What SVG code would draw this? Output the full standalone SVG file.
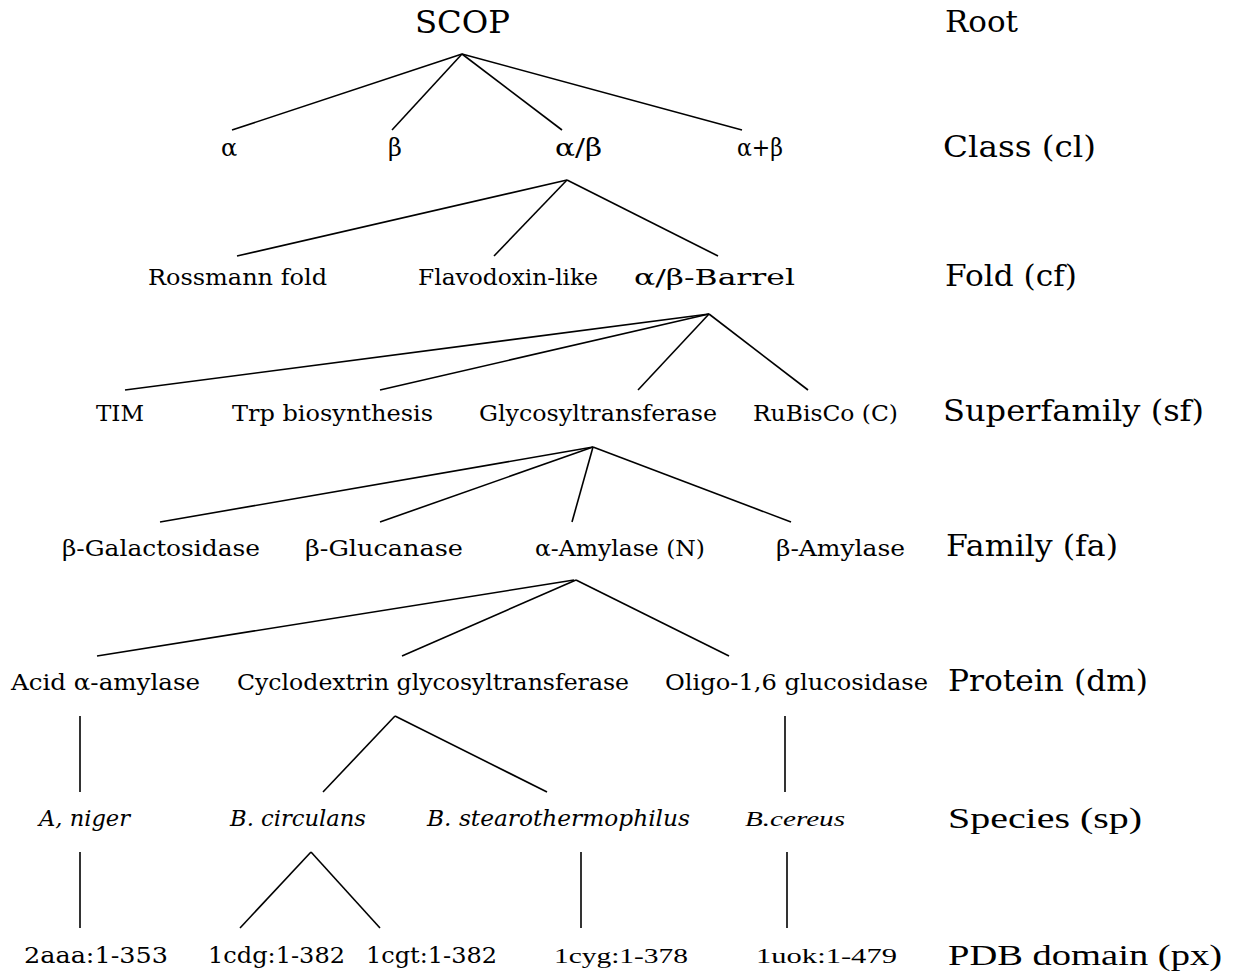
<svg xmlns="http://www.w3.org/2000/svg" width="1236" height="974" viewBox="0 0 1236 974">
<style>
text{font-family:"DejaVu Serif","Liberation Serif",serif;fill:#000}
.lvl{font-size:30px}
.root{font-size:32px}
.cls{font-size:24px}
.n{font-size:22px}
.sp{font-size:22px;font-style:italic}
.tm{font-family:"Liberation Serif",serif}
.conn line{stroke:#000;stroke-width:1.6;fill:none}
</style>
<rect width="1236" height="974" fill="#fff"/>
<g class="conn" id="connectors">
<line x1="462" y1="54" x2="232" y2="130"/>
<line x1="462" y1="54" x2="392" y2="130"/>
<line x1="462" y1="54" x2="562" y2="130"/>
<line x1="462" y1="54" x2="742" y2="130"/>
<line x1="567" y1="180" x2="237" y2="256"/>
<line x1="567" y1="180" x2="494" y2="256"/>
<line x1="567" y1="180" x2="718" y2="256"/>
<line x1="709" y1="314" x2="125" y2="390"/>
<line x1="709" y1="314" x2="380" y2="390"/>
<line x1="709" y1="314" x2="638" y2="390"/>
<line x1="709" y1="314" x2="808" y2="390"/>
<line x1="593" y1="447" x2="160" y2="522"/>
<line x1="593" y1="447" x2="380" y2="522"/>
<line x1="593" y1="447" x2="572" y2="522"/>
<line x1="593" y1="447" x2="791" y2="522"/>
<line x1="574" y1="580" x2="97" y2="656"/>
<line x1="576" y1="580" x2="402" y2="656"/>
<line x1="576" y1="580" x2="729" y2="656"/>
<line x1="80" y1="716" x2="80" y2="792"/>
<line x1="395" y1="716" x2="323" y2="792"/>
<line x1="395" y1="716" x2="547" y2="792"/>
<line x1="785" y1="716" x2="785" y2="792"/>
<line x1="80" y1="852" x2="80" y2="928"/>
<line x1="311" y1="852" x2="240" y2="928"/>
<line x1="311" y1="852" x2="380" y2="928"/>
<line x1="581" y1="852" x2="581" y2="928"/>
<line x1="787" y1="852" x2="787" y2="928"/>
</g>
<g id="levels">
<text class="lvl" x="945" y="32" textLength="73" lengthAdjust="spacingAndGlyphs">Root</text>
<text class="lvl" x="943" y="157" textLength="153" lengthAdjust="spacingAndGlyphs">Class (cl)</text>
<text class="lvl" x="945" y="286" textLength="132" lengthAdjust="spacingAndGlyphs">Fold (cf)</text>
<text class="lvl" x="943" y="421" textLength="261" lengthAdjust="spacingAndGlyphs">Superfamily (sf)</text>
<text class="lvl" x="946" y="556" textLength="172" lengthAdjust="spacingAndGlyphs">Family (fa)</text>
<text class="lvl" x="948" y="691" textLength="200" lengthAdjust="spacingAndGlyphs">Protein (dm)</text>
<text class="lvl tm" x="948" y="828" font-size="33" textLength="194" lengthAdjust="spacingAndGlyphs">Species (sp)</text>
<text class="lvl tm" x="948" y="965" font-size="33" textLength="274" lengthAdjust="spacingAndGlyphs">PDB domain (px)</text>
</g>
<g id="n-scop"><text class="root" x="415" y="33" textLength="95" lengthAdjust="spacingAndGlyphs">SCOP</text></g>
<g id="n-alpha"><text class="cls" x="221" y="156">α</text></g>
<g id="n-beta"><text class="cls" x="388" y="156">β</text></g>
<g id="n-ab"><text class="cls" x="555" y="156" textLength="47" lengthAdjust="spacingAndGlyphs">α/β</text></g>
<g id="n-apb"><text class="cls" x="737" y="156" textLength="46" lengthAdjust="spacingAndGlyphs">α+β</text></g>
<g id="n-rossmann"><text class="n" x="148" y="285" textLength="179" lengthAdjust="spacingAndGlyphs">Rossmann fold</text></g>
<g id="n-flavodoxin"><text class="n" x="418" y="285" textLength="180" lengthAdjust="spacingAndGlyphs">Flavodoxin-like</text></g>
<g id="n-barrel"><text class="n" x="634" y="285" font-size="21" textLength="161" lengthAdjust="spacingAndGlyphs">α/β-Barrel</text></g>
<g id="n-tim"><text class="n" x="96" y="421" textLength="48" lengthAdjust="spacingAndGlyphs">TIM</text></g>
<g id="n-trp"><text class="n" x="232" y="421" textLength="201" lengthAdjust="spacingAndGlyphs">Trp biosynthesis</text></g>
<g id="n-glyco"><text class="n" x="479" y="421" textLength="238" lengthAdjust="spacingAndGlyphs">Glycosyltransferase</text></g>
<g id="n-rubisco"><text class="n" x="753" y="421" textLength="145" lengthAdjust="spacingAndGlyphs">RuBisCo (C)</text></g>
<g id="n-bgal"><text class="n" x="62" y="556" textLength="198" lengthAdjust="spacingAndGlyphs">β-Galactosidase</text></g>
<g id="n-bglu"><text class="n" x="305" y="556" textLength="158" lengthAdjust="spacingAndGlyphs">β-Glucanase</text></g>
<g id="n-aamy"><text class="n" x="535" y="556" textLength="170" lengthAdjust="spacingAndGlyphs">α-Amylase (N)</text></g>
<g id="n-bamy"><text class="n" x="776" y="556" textLength="129" lengthAdjust="spacingAndGlyphs">β-Amylase</text></g>
<g id="n-acid"><text class="n" x="11" y="690" textLength="189" lengthAdjust="spacingAndGlyphs">Acid α-amylase</text></g>
<g id="n-cyclo"><text class="n" x="237" y="690" textLength="392" lengthAdjust="spacingAndGlyphs">Cyclodextrin glycosyltransferase</text></g>
<g id="n-oligo"><text class="n" x="665" y="690" textLength="263" lengthAdjust="spacingAndGlyphs">Oligo-1,6 glucosidase</text></g>
<g id="n-aniger"><text class="sp" x="39" y="826" textLength="91" lengthAdjust="spacingAndGlyphs">A, niger</text></g>
<g id="n-bcirc"><text class="sp" x="230" y="826" textLength="136" lengthAdjust="spacingAndGlyphs">B. circulans</text></g>
<g id="n-bstear"><text class="sp" x="427" y="826" textLength="263" lengthAdjust="spacingAndGlyphs">B. stearothermophilus</text></g>
<g id="n-bcereus"><text class="sp tm" x="745" y="826" font-size="24" textLength="100" lengthAdjust="spacingAndGlyphs">B.cereus</text></g>
<g id="n-2aaa"><text class="n" x="24" y="963" textLength="144" lengthAdjust="spacingAndGlyphs">2aaa:1-353</text></g>
<g id="n-1cdg"><text class="n" x="208" y="963" textLength="137" lengthAdjust="spacingAndGlyphs">1cdg:1-382</text></g>
<g id="n-1cgt"><text class="n" x="366" y="963" textLength="131" lengthAdjust="spacingAndGlyphs">1cgt:1-382</text></g>
<g id="n-1cyg"><text class="n tm" x="554" y="963" font-size="24" textLength="134" lengthAdjust="spacingAndGlyphs">1cyg:1-378</text></g>
<g id="n-1uok"><text class="n tm" x="756" y="963" font-size="24" textLength="141" lengthAdjust="spacingAndGlyphs">1uok:1-479</text></g>
</svg>
